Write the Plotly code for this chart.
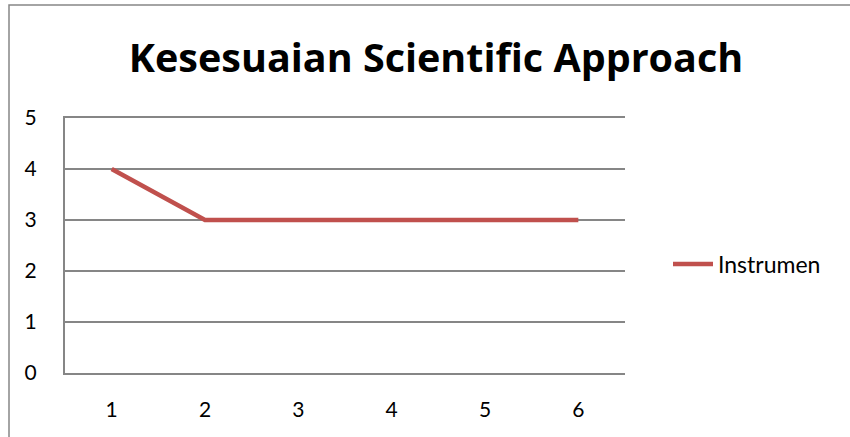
import plotly.graph_objects as go

categories = [1, 2, 3, 4, 5, 6]
instrumen = [4, 3, 3, 3, 3, 3]
y_ticks = [0, 1, 2, 3, 4, 5]
series_name = "Instrumen"
title_text = "Kesesuaian Scientific Approach"

W, H = 850, 437
L, R, T, B = 65, 625, 118, 373


def px_x(p):
    return (p - L) / (R - L)


def px_y(p):
    return (B - p) / (B - T)


fig = go.Figure()
fig.add_trace(go.Scatter(
    x=categories, y=instrumen, mode="lines", name=series_name,
    line=dict(color="#C0504D", width=4.5),
))

fig.update_layout(
    width=W, height=H,
    margin=dict(l=L, r=W - R, t=T, b=H - B, pad=0),
    paper_bgcolor="white", plot_bgcolor="white",
    font=dict(family="Lato, Noto Sans, sans-serif", size=21, color="#000000"),
    title=dict(text="<b>" + title_text + "</b>",
               font=dict(size=39.5, family="Open Sans, sans-serif", color="#000000"),
               xref="container", x=436 / W, xanchor="center",
               yref="container", y=1 - 58 / H, yanchor="middle"),
    showlegend=True,
    legend=dict(x=px_x(668), xanchor="left", y=px_y(264), yanchor="middle",
                bgcolor="rgba(0,0,0,0)", font=dict(size=23), itemwidth=40),
    xaxis=dict(range=[0.5, 6.5], tickvals=categories, ticktext=[str(c) for c in categories],
               showgrid=False, zeroline=False, showline=True, linecolor="#868686", linewidth=2,
               mirror=True,
               ticks="outside", ticklen=17, tickcolor="rgba(0,0,0,0)", fixedrange=True),
    yaxis=dict(range=[0, 5], tickvals=y_ticks, showgrid=True, gridcolor="#868686", gridwidth=1.5,
               zeroline=False, showline=True, linecolor="#868686", linewidth=2,
               ticks="outside", ticklen=22, tickcolor="rgba(0,0,0,0)", fixedrange=True),
    shapes=[dict(type="rect", xref="paper", yref="paper",
                 x0=px_x(9), x1=px_x(880),
                 y0=px_y(460), y1=px_y(5),
                 line=dict(color="#868686", width=1.5), fillcolor="rgba(0,0,0,0)", layer="below")],
)

fig.write_html("out.html", config={"displayModeBar": False},
               post_script="document.body.style.margin='0';")
